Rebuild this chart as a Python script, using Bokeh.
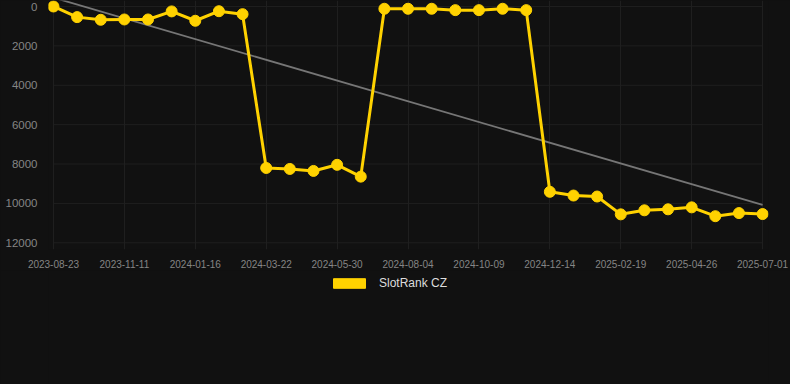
from bokeh.plotting import figure
from bokeh.layouts import column
from bokeh.models import Range1d, FixedTicker, ColumnDataSource, Legend, LegendItem
from bokeh.embed import file_html
from bokeh.resources import INLINE

# ---- data ----
tick_labels = ["2023-08-23", "2023-11-11", "2024-01-16", "2024-03-22", "2024-05-30",
               "2024-08-04", "2024-10-09", "2024-12-14", "2025-02-19", "2025-04-26",
               "2025-07-01"]
rank = [0, 540, 675, 660, 660, 250, 725, 240, 390,
        8200, 8250, 8350, 8040, 8640,
        115, 115, 115, 185, 185, 115, 185,
        9410, 9600, 9650, 10555, 10350, 10300, 10200, 10650, 10490, 10540]
trend_x = [0, 30]
trend_y = [-450, 10075]
series_name = "SlotRank CZ"
y_ticks = [0, 2000, 4000, 6000, 8000, 10000, 12000]

idx = list(range(len(rank)))
tick_pos = [i * 3 for i in range(len(tick_labels))]

BG = "#111111"
GOLD = "#FFD200"
GRID = "#1f1f1f"

p = figure(width=790, height=270, output_backend="svg", toolbar_location=None,
           x_range=Range1d(-0.21, 30.25), y_range=Range1d(12340, -304),
           min_border_left=48, min_border_right=22, min_border_top=0,
           min_border_bottom=20, styles={"background-color": BG})
p.background_fill_color = BG
p.border_fill_color = BG
p.outline_line_color = None

# horizontal grid lines spanning only the data extent
p.segment(x0=[idx[0]] * len(y_ticks), x1=[idx[-1]] * len(y_ticks),
          y0=y_ticks, y1=y_ticks, line_color=GRID, line_width=1, level="underlay")

src = ColumnDataSource(dict(x=idx, y=rank))
p.line(trend_x, trend_y, line_color="#767676", line_width=1.8)
p.line("x", "y", source=src, line_color=GOLD, line_width=3)
p.scatter("x", "y", source=src, size=11, fill_color=GOLD, line_color=GOLD)

p.xaxis.ticker = FixedTicker(ticks=tick_pos)
p.xaxis.major_label_overrides = {pos: lab for pos, lab in zip(tick_pos, tick_labels)}
p.yaxis.ticker = FixedTicker(ticks=y_ticks)

for ax in (p.xaxis, p.yaxis):
    ax.axis_line_color = None
    ax.major_tick_line_color = None
    ax.minor_tick_line_color = None
    ax.major_label_text_color = "#858585"
    ax.major_label_text_font = "Liberation Sans"
p.yaxis.major_label_text_font_size = "11.5px"
p.xaxis.major_label_text_font_size = "10px"
p.yaxis.major_label_standoff = 5
p.xaxis.major_label_standoff = 4

p.xgrid.ticker = FixedTicker(ticks=tick_pos)
p.xgrid.grid_line_color = GRID
p.xgrid.grid_line_width = 1
p.ygrid.visible = False

# legend strip below the chart
lg = figure(width=790, height=114, output_backend="svg", toolbar_location=None,
            x_range=Range1d(0, 1), y_range=Range1d(0, 1),
            x_axis_location=None, y_axis_location=None,
            min_border=0, styles={"background-color": BG})
lg.background_fill_color = BG
lg.border_fill_color = BG
lg.outline_line_color = None
lg.grid.visible = False
nan = float("nan")
dummy = lg.quad(left=[nan], right=[nan], top=[nan], bottom=[nan],
                fill_color=GOLD, line_color=GOLD)
legend = Legend(items=[LegendItem(label=series_name, renderers=[dummy])],
                location=(281, 94), orientation="horizontal",
                glyph_width=40, glyph_height=12, label_standoff=10,
                label_text_color="#dddddd", label_text_font="Liberation Sans",
                label_text_font_size="12px", label_height=12,
                background_fill_alpha=0, border_line_color=None,
                padding=0, margin=0, spacing=0)
lg.add_layout(legend, "center")

layout = column(p, lg, spacing=0, styles={"background-color": BG})
open("out.html", "w").write(file_html(layout, INLINE))
